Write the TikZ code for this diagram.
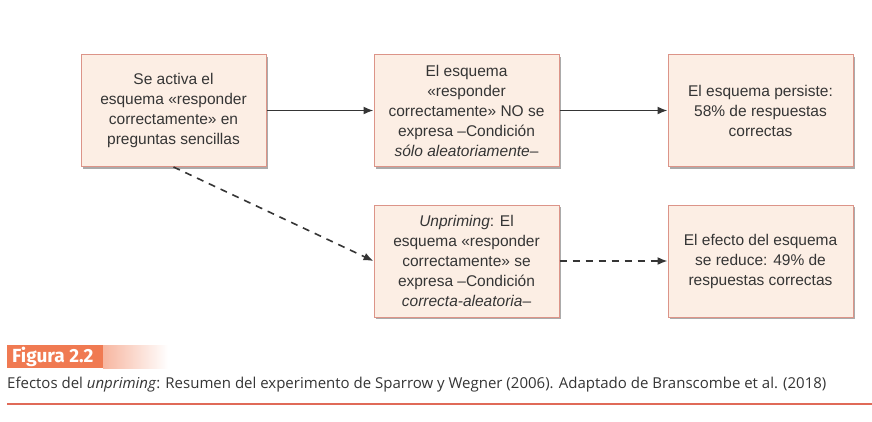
\documentclass[tikz,border=0pt]{standalone}
\usepackage{fontspec}
\setmainfont{Liberation Sans}
\newfontfamily\capfont{Open Sans}
\newfontfamily\figfont{Fira Sans}
\usetikzlibrary{arrows.meta,shadows}
\definecolor{boxfill}{HTML}{FCEEE4}
\definecolor{boxline}{HTML}{DC9488}
\definecolor{txt}{HTML}{353535}
\definecolor{figorange}{HTML}{F07A52}
\definecolor{redline}{HTML}{E06A58}
\begin{document}
\begin{tikzpicture}[x=1pt,y=-1pt,
  flowbox/.style={draw=boxline, line width=1pt, fill=boxfill,
    minimum width=185pt, minimum height=112pt, inner sep=0pt,
    align=center, text=txt, font=\fontsize{15.5}{20}\selectfont,
    drop shadow={shadow xshift=2pt, shadow yshift=-2pt, opacity=0.6, fill=black!55}},
  solidarrow/.style={draw=txt, line width=1.6pt, -{Latex[length=10pt,width=8pt]}},
  dasharrow/.style={solidarrow, dash pattern=on 7pt off 6pt}]
\useasboundingbox (0,0) rectangle (872,421);
\fill[white] (0,0) rectangle (872,421);
\node[flowbox] (a) at (173.5,110.5) {Se activa el\\esquema «responder\\correctamente» en\\preguntas sencillas};
\node[flowbox] (b) at (466.5,110.5) {El esquema\\«responder\\correctamente» NO se\\expresa –Condición\\\textit{sólo aleatoriamente}–};
\node[flowbox] (c) at (760.5,110.5) {El esquema persiste:\\58\% de respuestas\\correctas};
\node[flowbox] (d) at (466.5,261) {\textit{Unpriming}: El\\esquema «responder\\correctamente» se\\expresa –Condición\\\textit{correcta-aleatoria}–};
\node[flowbox] (e) at (760.5,261) {El efecto del esquema\\se reduce: 49\% de\\respuestas correctas};
\draw[solidarrow] (a.east) -- (b.west);
\draw[solidarrow] (b.east) -- (c.west);
\draw[dasharrow] (a.south) -- (d.west);
\draw[dasharrow] (d.east) -- (e.west);
% caption
\shade[left color=figorange!55, right color=white] (103,345) rectangle (168,368);
\fill[figorange] (7,345) rectangle (103,368);
\node[anchor=west, text=white, font=\figfont\bfseries\fontsize{19}{22}\selectfont, inner sep=0pt] (fig) at (12,356.5) {Figura 2.2};
\node[anchor=west, text=txt, font=\capfont\fontsize{15}{18}\selectfont, inner sep=0pt] (cap) at (7,385) {Efectos del \textit{unpriming}: Resumen del experimento de Sparrow y Wegner (2006). Adaptado de Branscombe et al. (2018)};
\coordinate (l1) at (7,404);
\coordinate (l2) at (872,404);
\draw[redline, line width=1.4pt] (l1) -- (l2);
\end{tikzpicture}
\end{document}
